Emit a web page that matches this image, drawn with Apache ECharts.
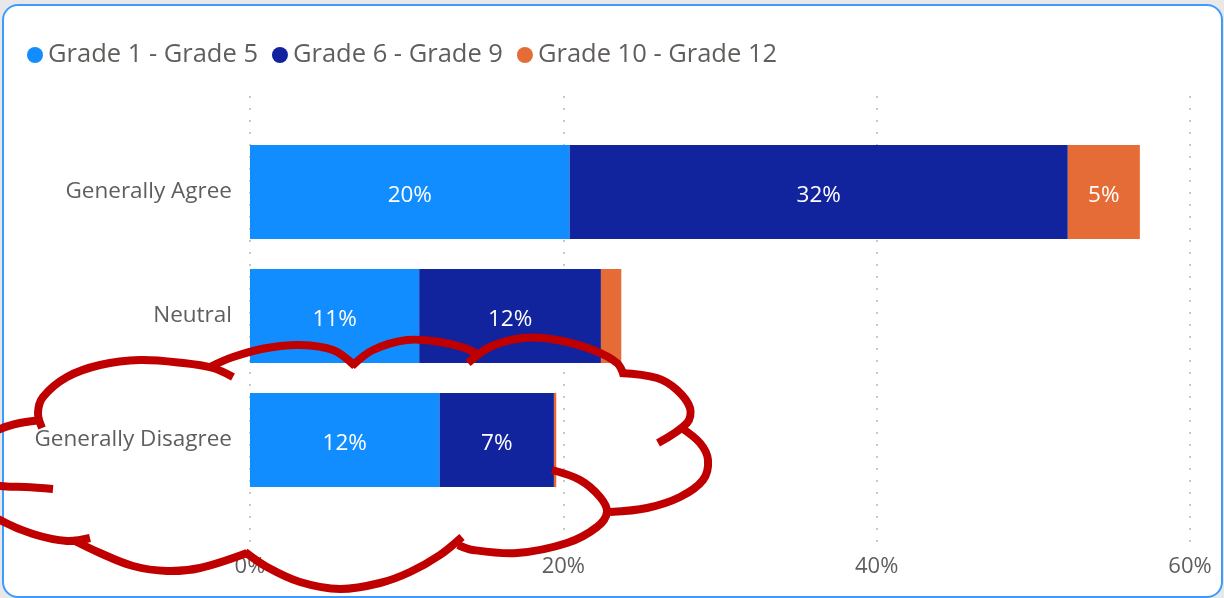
<!DOCTYPE html>
<html>
<head>
<meta charset="utf-8">
<script src="https://cdn.jsdelivr.net/npm/echarts@6/dist/echarts.min.js"></script>
<style>
  html, body { margin: 0; padding: 0; background: #e8e8e8; width: 1224px; height: 598px; overflow: hidden; }
  #card { position: absolute; left: 2px; top: 4px; width: 1217px; height: 590px; background: #fff; border: 2px solid #3d9bff; border-radius: 16px; }
  #chart { position: absolute; left: 0; top: 0; width: 1224px; height: 598px; }
</style>
</head>
<body>
<div id="card"></div>
<div id="chart"></div>
<script>
const categories = ['Generally Agree', 'Neutral', 'Generally Disagree'];
const seriesNames = ['Grade 1 - Grade 5', 'Grade 6 - Grade 9', 'Grade 10 - Grade 12'];
const grade1to5 = [20.4, 10.8, 12.1];
const grade6to9 = [31.8, 11.6, 7.3];
const grade10to12 = [4.6, 1.3, 0.15];
const xTicks = [0, 20, 40, 60];
const colors = ['#118DFF', '#12239E', '#E66C37'];

const FONT = 'Open Sans';
const TEXT = '#605e5c';

// hand-drawn red cloud annotation (decoration, screen pixels)
const cloudStrokes = [
  [[42,428],[38,413],[43,397],[67,377],[100,365],[140,360],[183,363],[213,368],[233,377]],
  [[210,367],[233,357],[267,348],[300,345],[333,350],[355,366]],
  [[352,366],[373,350],[407,340],[440,342],[465,348],[480,356]],
  [[468,363],[490,347],[523,338],[557,340],[593,350],[617,363],[624,376]],
  [[620,373],[657,378],[677,390],[690,408],[687,423],[658,443]],
  [[680,427],[700,443],[708,460],[703,480],[680,497],[647,508],[610,512]],
  [[552,470],[580,480],[600,497],[607,512],[597,527],[567,543],[517,553],[473,550],[458,545]],
  [[462,537],[440,555],[410,572],[380,583],[340,589],[300,582],[267,567],[245,552]],
  [[247,553],[200,568],[167,571],[133,566],[100,553],[73,540]],
  [[90,538],[67,541],[33,534],[0,520],[-20,505]],
  [[-30,478],[0,486],[25,487],[53,489]],
  [[-30,445],[0,429],[20,423],[42,420]]
];
const cloud = cloudStrokes.map(pts => ({
  type: 'polyline', silent: true, z: 100,
  shape: { points: pts, smooth: 0.35 },
  style: { fill: null, stroke: '#C00000', lineWidth: 8, lineCap: 'butt', lineJoin: 'round' }
}));

const chart = echarts.init(document.getElementById('chart'), null, { renderer: 'canvas' });

const data = [grade1to5, grade6to9, grade10to12];

const option = {
  backgroundColor: 'transparent',
  textStyle: { fontFamily: FONT },
  legend: {
    left: 22, top: 37,
    itemWidth: 16, itemHeight: 16, itemGap: 14,
    icon: 'circle',
    textStyle: { fontSize: 25.5, color: TEXT, fontFamily: FONT },
    data: seriesNames
  },
  grid: [
    { left: 250, right: 34, top: 130, bottom: 96 },
    { left: 250, right: 34, top: 96, bottom: 53 }
  ],
  xAxis: [
    { type: 'value', gridIndex: 0, min: 0, max: 60, interval: 20, show: false },
    {
      type: 'value', gridIndex: 1, min: xTicks[0], max: xTicks[xTicks.length - 1], interval: 20,
      axisLine: { show: false }, axisTick: { show: false },
      axisLabel: { formatter: '{value}%', fontSize: 22, color: TEXT, fontFamily: FONT, margin: 11 },
      splitLine: { show: true, lineStyle: { color: '#c8c8c8', width: 2, type: [2, 10] } }
    }
  ],
  yAxis: [
    {
      type: 'category', gridIndex: 0, data: categories, inverse: true,
      axisLine: { show: false }, axisTick: { show: false },
      axisLabel: { fontSize: 22.5, color: TEXT, fontFamily: FONT, margin: 18, padding: [7, 0, 0, 0] }
    },
    { type: 'value', gridIndex: 1, show: false }
  ],
  series: seriesNames.map((name, i) => ({
    name: name, type: 'bar', stack: 'total', xAxisIndex: 0, yAxisIndex: 0,
    barWidth: '76%',
    itemStyle: { color: colors[i] },
    label: {
      show: true, position: 'inside', color: '#fff', fontSize: 22.5, fontFamily: FONT,
      offset: [0, 4],
      formatter: p => p.value >= 2 ? Math.round(p.value) + '%' : ''
    },
    data: data[i]
  })),
  graphic: cloud
};

chart.setOption(option);
</script>
</body>
</html>
